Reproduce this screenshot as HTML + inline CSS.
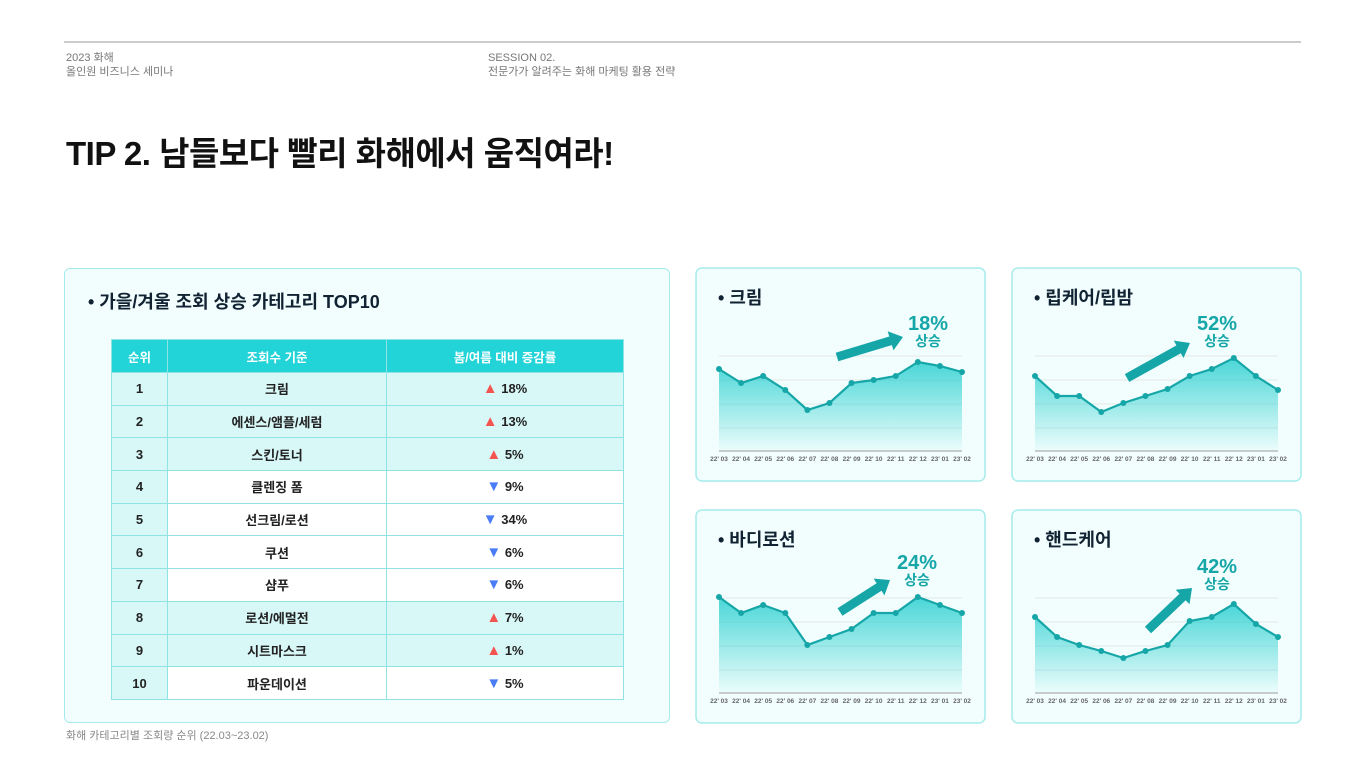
<!DOCTYPE html>
<html><head><meta charset="utf-8">
<style>
*{margin:0;padding:0;box-sizing:border-box}
body{width:1366px;height:762px;background:#fff;font-family:"Liberation Sans","Noto Sans CJK KR",sans-serif;position:relative;overflow:hidden;color:#222}
.abs{position:absolute}
.card{position:absolute;border:1.5px solid #a6ecec;border-radius:6px;background:#f1fefd}
.hdr{font-size:11px;color:#777;line-height:14px}
table{border-collapse:collapse;position:absolute;left:111px;top:339px;width:513px}
td,th{border:1.5px solid #8fe3e3;height:32.7px;padding:0;text-align:center;font-size:13px;font-weight:bold;color:#222}
th{background:#22d3d8;color:#fff;height:33px;font-size:12.5px}
.sh{background:#d8f7f7}
.wh{background:#fff}
.up,.dn{font-size:15px}
.up{color:#f4544f}.dn{color:#4a7cf6}
.ctitle{position:absolute;font-size:18px;font-weight:bold;color:#123}
</style></head><body>
<div class="abs" style="left:64px;top:41px;width:1237px;height:1.5px;background:#ccc"></div>
<div class="abs hdr" style="left:66px;top:51px">2023 화해<br>올인원 비즈니스 세미나</div>
<div class="abs hdr" style="left:488px;top:51px">SESSION 02.<br>전문가가 알려주는 화해 마케팅 활용 전략</div>
<div class="abs" style="left:66px;top:127px;font-size:33px;font-weight:bold;color:#111;letter-spacing:-0.5px">TIP 2. 남들보다 빨리 화해에서 움직여라!</div>

<div class="card" style="left:64px;top:268px;width:606px;height:455px"></div>
<div class="ctitle" style="left:88px;top:288px">• 가을/겨울 조회 상승 카테고리 TOP10</div>
<table>
<tr><th style="width:56px">순위</th><th style="width:219px">조회수 기준</th><th>봄/여름 대비 증감률</th></tr>
<tr><td class="sh">1</td><td class="sh">크림</td><td class="sh"><span class="up">▲</span> 18%</td></tr>
<tr><td class="sh">2</td><td class="sh">에센스/앰플/세럼</td><td class="sh"><span class="up">▲</span> 13%</td></tr>
<tr><td class="sh">3</td><td class="sh">스킨/토너</td><td class="sh"><span class="up">▲</span> 5%</td></tr>
<tr><td class="sh">4</td><td class="wh">클렌징 폼</td><td class="wh"><span class="dn">▼</span> 9%</td></tr>
<tr><td class="sh">5</td><td class="wh">선크림/로션</td><td class="wh"><span class="dn">▼</span> 34%</td></tr>
<tr><td class="sh">6</td><td class="wh">쿠션</td><td class="wh"><span class="dn">▼</span> 6%</td></tr>
<tr><td class="sh">7</td><td class="wh">샴푸</td><td class="wh"><span class="dn">▼</span> 6%</td></tr>
<tr><td class="sh">8</td><td class="sh">로션/에멀전</td><td class="sh"><span class="up">▲</span> 7%</td></tr>
<tr><td class="sh">9</td><td class="sh">시트마스크</td><td class="sh"><span class="up">▲</span> 1%</td></tr>
<tr><td class="sh">10</td><td class="wh">파운데이션</td><td class="wh"><span class="dn">▼</span> 5%</td></tr>
</table>
<div class="abs" style="left:66px;top:727px;font-size:11px;color:#888">화해 카테고리별 조회량 순위 (22.03~23.02)</div>

<svg id="charts" class="abs" style="left:0;top:0" width="1366" height="762">
<defs><linearGradient id="g" x1="0" y1="0" x2="0" y2="1"><stop offset="0" stop-color="#2ccfd0" stop-opacity="0.85"/><stop offset="1" stop-color="#2ccfd0" stop-opacity="0.03"/></linearGradient></defs>
</svg>
<script>
const months=["22' 03","22' 04","22' 05","22' 06","22' 07","22' 08","22' 09","22' 10","22' 11","22' 12","23' 01","23' 02"];
const titles=["크림","립케어/립밤","바디로션","핸드케어"];
const rises=["18%","52%","24%","42%"];
const creamValues=[82,68,75,61,41,48,68,71,75,89,85,79];
const lipValues=[75,55,55,39,48,55,62,75,82,93,75,61];
const bodyValues=[96,80,88,80,48,56,64,80,80,96,88,80];
const handValues=[76,56,48,42,35,42,48,72,76,89,69,56];
const series=[creamValues,lipValues,bodyValues,handValues];
const yMax=95;
const cards=[[696,268,[837,357,903,337],928,323],[1012,268,[1127,378,1190,343],1217,323],[696,510,[840,612,890,580],917,562],[1012,510,[1148,630,1192,588],1217,566]];
const svg=document.getElementById('charts');
const NS='http://www.w3.org/2000/svg';
function mk(t,a,p){const e=document.createElementNS(NS,t);for(const k in a)e.setAttribute(k,a[k]);(p||svg).appendChild(e);return e;}
cards.forEach((c,i)=>{
 const L=c[0],T=c[1];
 const g=mk('g',{});
 
 
 const r=mk('rect',{x:L,y:T,width:289,height:213,rx:6,fill:'#f1fefd',stroke:'#a6ecec','stroke-width':1.5},g);
 
 
 const tt=mk('text',{x:L+22,y:T+36,'font-size':18,'font-weight':'bold',fill:'#123'},g);tt.textContent='• '+titles[i];
 
 
 const x0=L+23,x1=L+266,base=T+183,top=T+88;
 const xs=k=>x0+(x1-x0)*k/(months.length-1);
 const ys=v=>base-(base-top)*v/yMax;
 for(let j=0;j<4;j++){const gy=top+j*24;const gl=mk('line',{x1:x0,x2:x1,y1:gy,y2:gy,stroke:'#e2e8e8','stroke-width':1},g);
 
 }
 const ax=mk('line',{x1:x0,x2:x1,y1:base,y2:base,stroke:'#bbb','stroke-width':1.5},g);
 
 
 const vals=series[i];
 const pts=vals.map((v,k)=>xs(k)+','+ys(v));
 const area=mk('path',{d:'M'+x0+','+base+' L'+pts.join(' L')+' L'+x1+','+base+' Z',fill:'url(#g)'},g);
 
 
 const ln=mk('polyline',{points:pts.join(' '),fill:'none',stroke:'#16a6a8','stroke-width':2.2},g);
 
 
 vals.forEach((v,k)=>{const d=mk('circle',{cx:xs(k),cy:ys(v),r:3,fill:'#16a6a8'},g);
  
  
  const lb=mk('text',{x:xs(k),y:base+10,'font-size':6.5,'font-weight':'bold',fill:'#666','text-anchor':'middle'},g);lb.textContent=months[k];
  
  });
 const a=c[2];const ang=Math.atan2(a[3]-a[1],a[2]-a[0]);const len=Math.hypot(a[2]-a[0],a[3]-a[1]);
 const ar=mk('g',{transform:`translate(${a[0]},${a[1]}) rotate(${ang*180/Math.PI})`},g);
 
 
 mk('polygon',{points:`0,-4.5 ${len-13},-4.5 ${len-13},-10 ${len},0 ${len-13},10 ${len-13},4.5 0,4.5`,fill:'#16a6a8'},ar);
 const p=mk('text',{x:c[3],y:c[4]+7,'font-size':20,'font-weight':'bold',fill:'#16a6a8','text-anchor':'middle'},g);p.textContent=rises[i];
 
 
 const s=mk('text',{x:c[3],y:c[4]+23,'font-size':14,'font-weight':'bold',fill:'#16a6a8','text-anchor':'middle'},g);s.textContent='상승';
 
 
});
</script>
</body></html>
